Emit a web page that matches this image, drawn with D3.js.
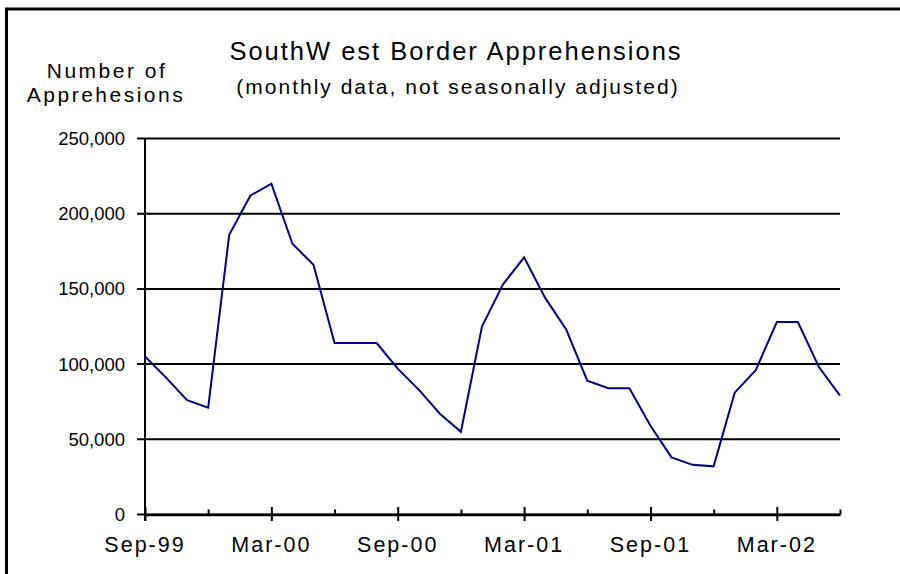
<!DOCTYPE html>
<html lang="en">
<head>
    <meta charset="UTF-8">
    <title>SouthWest Border Apprehensions</title>
    <script src="https://d3js.org/d3.v7.min.js"></script>
    <style>
        body {
            margin: 0;
            background: #fff;
            overflow: hidden;
        }
        svg text {
            font-family: "Liberation Sans", Arial, sans-serif;
            fill: #000;
        }
    </style>
</head>
<body>
    <svg width="900" height="574"></svg>
    <script>
        // monthly values, Sep-99 .. Jun-02
        const months = ["Sep-99", "Oct-99", "Nov-99", "Dec-99", "Jan-00", "Feb-00", "Mar-00", "Apr-00",
            "May-00", "Jun-00", "Jul-00", "Aug-00", "Sep-00", "Oct-00", "Nov-00", "Dec-00",
            "Jan-01", "Feb-01", "Mar-01", "Apr-01", "May-01", "Jun-01", "Jul-01", "Aug-01",
            "Sep-01", "Oct-01", "Nov-01", "Dec-01", "Jan-02", "Feb-02", "Mar-02", "Apr-02",
            "May-02", "Jun-02"];
        const apprehensions = [105000, 91000, 76000, 71000, 186000, 212000, 220000, 180000,
            166000, 114000, 114000, 114000, 97000, 83000, 67000, 55000,
            125000, 153000, 171000, 144000, 123000, 89000, 84000, 84000,
            59000, 38000, 33000, 32000, 81000, 96000, 128000, 128000,
            98000, 79000];
        const xTickLabels = ["Sep-99", "Mar-00", "Sep-00", "Mar-01", "Sep-01", "Mar-02"];
        const yTicks = [0, 50000, 100000, 150000, 200000, 250000];

        const svg = d3.select("svg");

        // frame
        svg.append("rect")
            .attr("x", 6.5).attr("y", 9)
            .attr("width", 1000).attr("height", 700)
            .attr("fill", "none")
            .attr("stroke", "#000")
            .attr("stroke-width", 3);

        const x = d3.scaleLinear().domain([0, months.length - 1]).range([145, 840]);
        const y = d3.scaleLinear().domain([0, 250000]).range([514.5, 138.5]);

        // gridlines
        svg.append("g")
            .selectAll("line")
            .data(yTicks)
            .join("line")
            .attr("x1", 137).attr("x2", 840)
            .attr("y1", d => y(d)).attr("y2", d => y(d))
            .attr("stroke", "#000")
            .attr("stroke-width", 2);

        // y axis
        const yAxis = svg.append("g")
            .attr("transform", "translate(145,0)")
            .call(d3.axisLeft(y).tickValues(yTicks).tickSize(0).tickPadding(20)
                .tickFormat(d3.format(",")));
        yAxis.select(".domain").remove();
        yAxis.selectAll("text")
            .attr("font-size", "18.5px")
            .attr("font-family", "Liberation Sans, Arial, sans-serif");
        svg.append("line")
            .attr("x1", 145).attr("x2", 145)
            .attr("y1", y(250000)).attr("y2", 521)
            .attr("stroke", "#000").attr("stroke-width", 2);

        // x axis
        const minorIdx = d3.range(0, months.length, 3);
        const xAxis = svg.append("g")
            .attr("transform", `translate(0,${y(0)})`)
            .call(d3.axisBottom(x).tickValues(minorIdx).tickSize(0).tickFormat(""));
        xAxis.select(".domain")
            .attr("stroke-width", 2.5);
        xAxis.selectAll(".tick line")
            .attr("stroke", "#000")
            .attr("stroke-width", 2)
            .attr("y1", d => d % 6 === 0 ? -7.5 : -5)
            .attr("y2", d => d % 6 === 0 ? 6.5 : 0);

        svg.append("g")
            .selectAll("text")
            .data(xTickLabels)
            .join("text")
            .attr("x", (d, i) => x(months.indexOf(d)))
            .attr("y", 552)
            .attr("text-anchor", "middle")
            .attr("font-size", "21.5px")
            .attr("letter-spacing", "2px")
            .text(d => d);

        // line
        const line = d3.line()
            .x((d, i) => x(i))
            .y(d => y(d));
        svg.append("path")
            .datum(apprehensions)
            .attr("d", line)
            .attr("fill", "none")
            .attr("stroke", "#000080")
            .attr("stroke-width", 2)
            .attr("stroke-linejoin", "miter");

        // titles
        svg.append("text")
            .attr("x", 456).attr("y", 60)
            .attr("text-anchor", "middle")
            .attr("font-size", "25.5px")
            .attr("letter-spacing", "2px")
            .text("SouthW est Border Apprehensions");
        svg.append("text")
            .attr("x", 458).attr("y", 94)
            .attr("text-anchor", "middle")
            .attr("font-size", "21px")
            .attr("letter-spacing", "2px")
            .text("(monthly data, not seasonally adjusted)");
        svg.append("text")
            .attr("x", 107).attr("y", 78)
            .attr("text-anchor", "middle")
            .attr("font-size", "21px")
            .attr("letter-spacing", "2.5px")
            .text("Number of");
        svg.append("text")
            .attr("x", 106).attr("y", 102)
            .attr("text-anchor", "middle")
            .attr("font-size", "21px")
            .attr("letter-spacing", "2.5px")
            .text("Apprehesions");
    </script>
</body>
</html>
